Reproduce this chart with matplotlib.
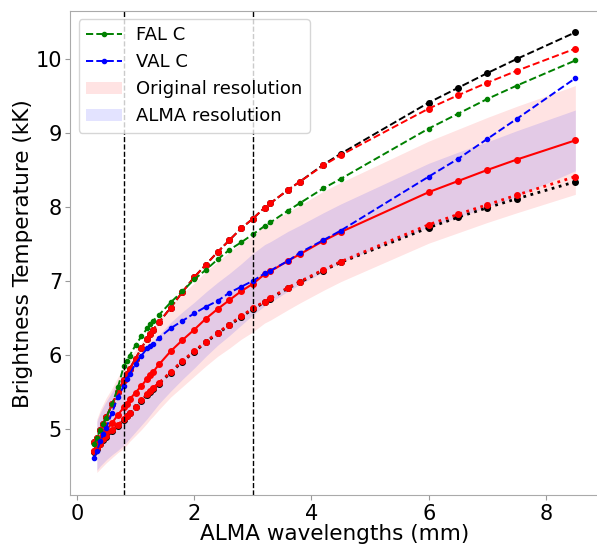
import numpy as np
import matplotlib
matplotlib.use('Agg')
import matplotlib.pyplot as plt

# ALMA wavelengths (mm)
wl = [0.3, 0.34, 0.4, 0.45, 0.5, 0.6, 0.7, 0.8, 0.85, 0.9, 1.0, 1.1, 1.2, 1.25, 1.3,
      1.4, 1.6, 1.8, 2.0, 2.2, 2.4, 2.6, 2.8, 3.0, 3.2, 3.3, 3.6, 3.8, 4.2, 4.5,
      6.0, 6.5, 7.0, 7.5, 8.5]

# brightness temperatures (kK)
fal_c = [4.79, 4.88, 4.99, 5.07, 5.15, 5.33, 5.56, 5.85, 5.92, 5.99, 6.13, 6.25, 6.36,
         6.42, 6.46, 6.54, 6.71, 6.86, 7.02, 7.15, 7.29, 7.42, 7.52, 7.63, 7.74, 7.79,
         7.95, 8.05, 8.25, 8.38, 9.06, 9.26, 9.46, 9.64, 9.98]
val_c = [4.61, 4.70, 4.83, 4.93, 5.01, 5.22, 5.43, 5.58, 5.67, 5.74, 5.88, 5.99, 6.09,
         6.12, 6.15, 6.23, 6.36, 6.46, 6.56, 6.65, 6.73, 6.84, 6.92, 7.00, 7.10, 7.14,
         7.27, 7.38, 7.55, 7.68, 8.41, 8.65, 8.92, 9.19, 9.74]
sim_max_orig = [4.82, 4.88, 4.98, 5.07, 5.16, 5.33, 5.50, 5.66, 5.74, 5.81, 5.95, 6.09,
                6.22, 6.28, 6.34, 6.44, 6.64, 6.85, 7.05, 7.22, 7.39, 7.55, 7.71, 7.84,
                7.99, 8.05, 8.23, 8.34, 8.57, 8.72, 9.41, 9.61, 9.81, 10.00, 10.36]
sim_max_alma = [4.82, 4.88, 4.98, 5.07, 5.16, 5.33, 5.50, 5.66, 5.74, 5.81, 5.95, 6.09,
                6.22, 6.28, 6.34, 6.44, 6.64, 6.85, 7.05, 7.22, 7.39, 7.55, 7.71, 7.84,
                7.99, 8.05, 8.23, 8.34, 8.56, 8.70, 9.33, 9.51, 9.68, 9.84, 10.14]
sim_mean = [4.70, 4.77, 4.86, 4.92, 4.98, 5.08, 5.19, 5.29, 5.34, 5.40, 5.49, 5.58, 5.68,
            5.73, 5.77, 5.87, 6.05, 6.20, 6.34, 6.49, 6.62, 6.74, 6.86, 6.96, 7.09, 7.13,
            7.27, 7.36, 7.54, 7.66, 8.20, 8.35, 8.50, 8.64, 8.90]
sim_median_orig = [4.69, 4.73, 4.79, 4.85, 4.89, 4.97, 5.04, 5.12, 5.17, 5.21, 5.29, 5.38,
                   5.46, 5.50, 5.54, 5.61, 5.76, 5.91, 6.04, 6.17, 6.29, 6.40, 6.51, 6.62,
                   6.71, 6.76, 6.90, 6.98, 7.14, 7.25, 7.72, 7.86, 7.99, 8.11, 8.34]
sim_median_alma = [4.70, 4.74, 4.80, 4.86, 4.90, 4.98, 5.05, 5.13, 5.18, 5.22, 5.30, 5.39,
                   5.47, 5.51, 5.55, 5.62, 5.77, 5.92, 6.05, 6.18, 6.30, 6.41, 6.52, 6.63,
                   6.72, 6.77, 6.91, 6.99, 7.15, 7.26, 7.76, 7.90, 8.03, 8.16, 8.41]

# spread bands (start at the second wavelength)
band_wl = wl[1:]
orig_lo = [4.41, 4.46, 4.50, 4.54, 4.61, 4.68, 4.74, 4.78, 4.83, 4.91, 4.99, 5.08, 5.13,
           5.17, 5.26, 5.43, 5.57, 5.71, 5.85, 5.98, 6.09, 6.21, 6.31, 6.43, 6.47, 6.61,
           6.70, 6.87, 6.99, 7.51, 7.65, 7.79, 7.92, 8.17]
orig_hi = [5.13, 5.26, 5.34, 5.42, 5.55, 5.70, 5.84, 5.90, 5.97, 6.07, 6.17, 6.28, 6.33,
           6.37, 6.48, 6.67, 6.83, 6.97, 7.13, 7.26, 7.39, 7.51, 7.61, 7.75, 7.79, 7.93,
           8.02, 8.21, 8.33, 8.89, 9.05, 9.21, 9.36, 9.64]
alma_lo = [4.44, 4.50, 4.54, 4.58, 4.65, 4.71, 4.78, 4.82, 4.87, 4.96, 5.05, 5.14, 5.19,
           5.24, 5.34, 5.51, 5.67, 5.82, 5.98, 6.13, 6.26, 6.40, 6.54, 6.66, 6.71, 6.86,
           6.95, 7.12, 7.25, 7.73, 7.86, 8.00, 8.14, 8.49]
alma_hi = [5.10, 5.22, 5.30, 5.37, 5.50, 5.63, 5.74, 5.79, 5.84, 5.93, 6.02, 6.10, 6.14,
           6.18, 6.27, 6.44, 6.58, 6.71, 6.85, 6.98, 7.10, 7.23, 7.37, 7.49, 7.53, 7.67,
           7.75, 7.92, 8.04, 8.59, 8.74, 8.88, 9.03, 9.31]

vlines = [0.8, 3.0]

fig = plt.figure(figsize=(5.97, 5.45), dpi=100)
ax = fig.add_axes([0.118, 0.091, 0.886, 0.889])

ax.fill_between(band_wl, orig_lo, orig_hi, color='red', alpha=0.11, lw=0,
                label='Original resolution')
ax.fill_between(band_wl, alma_lo, alma_hi, color='blue', alpha=0.11, lw=0,
                label='ALMA resolution')

ax.plot(wl, sim_max_orig, 'k--o', ms=4, lw=1.4)
ax.plot(wl, sim_max_alma, 'r--o', ms=4, lw=1.4)
ax.plot(wl, sim_median_orig, 'k:o', ms=4, lw=2)
ax.plot(wl, sim_median_alma, 'r:o', ms=4, lw=2)
ax.plot(wl, sim_mean, 'r-o', ms=4, lw=1.5)
ax.plot(wl, fal_c, 'g--o', ms=3, lw=1.4, label='FAL C')
ax.plot(wl, val_c, 'b--o', ms=3, lw=1.4, label='VAL C')

for v in vlines:
    ax.axvline(v, color='k', ls='--', lw=1)

ax.set_xlim(-0.11, 8.91)
ax.set_ylim(4.10, 10.65)
ax.set_xticks([0, 2, 4, 6, 8])
ax.set_yticks([5, 6, 7, 8, 9, 10])
ax.tick_params(labelsize=15, color='#999999', pad=2.5)
for s in ax.spines.values():
    s.set_color('#aaaaaa')

ax.set_xlabel('ALMA wavelengths (mm)', fontsize=15.5, labelpad=0)
ax.set_ylabel('Brightness Temperature (kK)', fontsize=15.5, labelpad=2)

h, l = ax.get_legend_handles_labels()
order = [2, 3, 0, 1]
ax.legend([h[i] for i in order], [l[i] for i in order], loc='upper left',
          fontsize=13, borderaxespad=0.45)

fig.savefig('out.png', dpi=100)
